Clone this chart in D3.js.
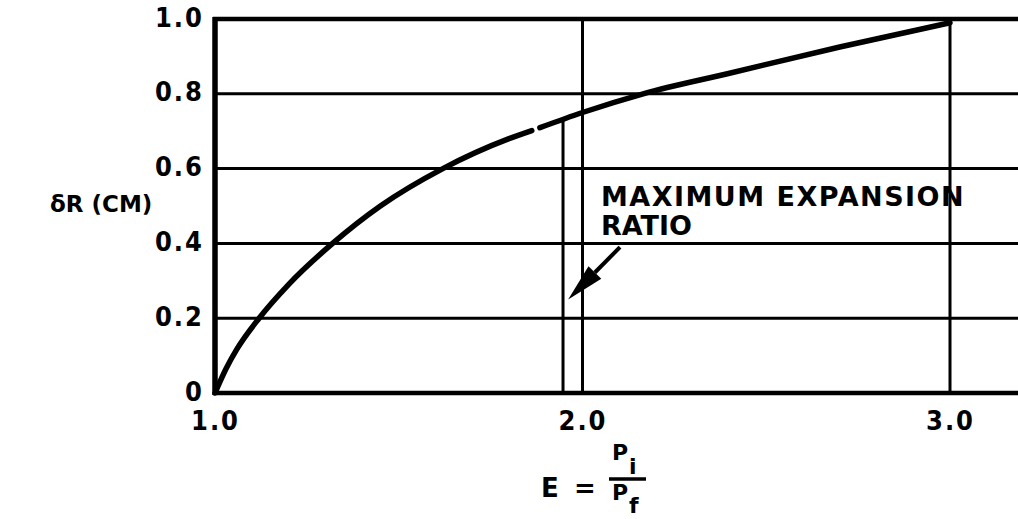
<!DOCTYPE html>
<html>
<head>
<meta charset="utf-8">
<script src="https://cdn.jsdelivr.net/npm/d3@7"></script>
<style>
  html, body { margin: 0; padding: 0; background: #fff; }
  svg { display: block; }
  .tick-label { font-family: "DejaVu Sans Condensed", "DejaVu Sans", sans-serif; font-stretch: condensed; font-weight: bold; fill: #000; }
  .note { font-family: "DejaVu Sans", sans-serif; font-weight: bold; fill: #000; }
</style>
</head>
<body>
<svg id="chart" width="1018" height="519"></svg>
<script>
// Expansion ratio E = Pi / Pf versus radial growth δR (cm)
const ratioE = [1.00, 1.03, 1.06, 1.12, 1.20, 1.32, 1.45, 1.62, 1.80, 2.00, 2.165, 2.40, 2.70, 3.00];
const deltaR = [0.00, 0.065, 0.118, 0.20, 0.29, 0.40, 0.50, 0.60, 0.68, 0.75, 0.80, 0.855, 0.925, 0.99];

// small break in the printed curve
const curveBreak = [1.862, 1.884];

const xTicks = [1.0, 2.0, 3.0];
const xTickLabels = ["1.0", "2.0", "3.0"];
const yTicks = [0, 0.2, 0.4, 0.6, 0.8, 1.0];
const yTickLabels = ["0", "0.2", "0.4", "0.6", "0.8", "1.0"];
const yGrid = [0.2, 0.4, 0.6, 0.8];
const xGrid = [2.0, 3.0];

const maxExpansionE = 1.947;
const yTitle = "δR (CM)";
const noteLines = ["MAXIMUM EXPANSION", "RATIO"];

const W = 1018, H = 519;
const margin = { left: 215, top: 19, bottom: 126 };
const svg = d3.select("#chart");

const x = d3.scaleLinear().domain([1, 1 + (W - margin.left) / 367.5]).range([margin.left, W]);
const y = d3.scaleLinear().domain([0, 1]).range([H - margin.bottom, margin.top]);

const pts = ratioE.map((e, i) => ({ e, r: deltaR[i] }));
const valueAt = e => {
  const i = d3.bisector(d => d.e).right(pts, e);
  const a = pts[Math.max(0, i - 1)], b = pts[Math.min(pts.length - 1, i)];
  if (a.e === b.e) return a.r;
  return a.r + (b.r - a.r) * (e - a.e) / (b.e - a.e);
};

// horizontal grid
svg.append("g").selectAll("line").data(yGrid).join("line")
  .attr("x1", x(1)).attr("x2", W)
  .attr("y1", d => y(d)).attr("y2", d => y(d))
  .attr("stroke", "#000").attr("stroke-width", 3);

// vertical grid
svg.append("g").selectAll("line").data(xGrid).join("line")
  .attr("x1", d => x(d)).attr("x2", d => x(d))
  .attr("y1", y(0)).attr("y2", y(1))
  .attr("stroke", "#000").attr("stroke-width", 3);

// frame: top, bottom and left edges
svg.append("line").attr("x1", x(1) - 2).attr("x2", W).attr("y1", y(1)).attr("y2", y(1))
  .attr("stroke", "#000").attr("stroke-width", 4.5);
svg.append("line").attr("x1", x(1) - 2).attr("x2", W).attr("y1", y(0)).attr("y2", y(0))
  .attr("stroke", "#000").attr("stroke-width", 4.5);
svg.append("line").attr("x1", x(1)).attr("x2", x(1)).attr("y1", y(1) - 2).attr("y2", y(0) + 2)
  .attr("stroke", "#000").attr("stroke-width", 5.5);

// maximum expansion ratio marker
svg.append("line")
  .attr("x1", x(maxExpansionE)).attr("x2", x(maxExpansionE))
  .attr("y1", y(0)).attr("y2", y(valueAt(maxExpansionE)))
  .attr("stroke", "#000").attr("stroke-width", 3);

// curve, drawn in two pieces around the break
const line = d3.line().x(d => x(d.e)).y(d => y(d.r)).curve(d3.curveMonotoneX);
const segA = pts.filter(d => d.e < curveBreak[0]).concat([{ e: curveBreak[0], r: valueAt(curveBreak[0]) }]);
const segB = [{ e: curveBreak[1], r: valueAt(curveBreak[1]) }].concat(pts.filter(d => d.e > curveBreak[1]));
svg.append("g").selectAll("path").data([segA, segB]).join("path")
  .attr("d", line).attr("fill", "none")
  .attr("stroke", "#000").attr("stroke-width", 5.5).attr("stroke-linecap", "round");

// axes (labels only)
const yAxis = d3.axisLeft(y).tickValues(yTicks).tickSize(0).tickPadding(10)
  .tickFormat((d, i) => yTickLabels[i]);
const gy = svg.append("g").attr("transform", `translate(${x(1) - 1},0)`).call(yAxis);
gy.select(".domain").remove();
gy.selectAll("text").attr("class", "tick-label").attr("font-size", 27)
  .attr("letter-spacing", 2).attr("dy", "0.26em");

const xAxis = d3.axisBottom(x).tickValues(xTicks).tickSize(0).tickPadding(18)
  .tickFormat((d, i) => xTickLabels[i]);
const gx = svg.append("g").attr("transform", `translate(0,${y(0)})`).call(xAxis);
gx.select(".domain").remove();
gx.selectAll("text").attr("class", "tick-label").attr("font-size", 27)
  .attr("letter-spacing", 2);

// y title
svg.append("text").attr("class", "note").attr("font-size", 23)
  .attr("x", 50).attr("y", y(0.5) + 6).text(yTitle);

// annotation
svg.append("text").attr("class", "note").attr("font-size", 27).attr("letter-spacing", 1.5)
  .attr("x", x(2.05)).attr("y", y(0.5)).text(noteLines[0]);
svg.append("text").attr("class", "note").attr("font-size", 27)
  .attr("x", x(2.05)).attr("y", y(0.4225)).text(noteLines[1]);

// arrow pointing at the marker
const tail = [x(2.102), y(0.39)], tip = [x(1.961), y(0.25)];
const ang = Math.atan2(tip[1] - tail[1], tip[0] - tail[0]);
const headLen = 38, headHalf = 9;
const base = [tip[0] - headLen * Math.cos(ang), tip[1] - headLen * Math.sin(ang)];
svg.append("line").attr("x1", tail[0]).attr("y1", tail[1]).attr("x2", base[0]).attr("y2", base[1])
  .attr("stroke", "#000").attr("stroke-width", 4);
svg.append("path")
  .attr("d", d3.line()([
    tip,
    [base[0] + headHalf * Math.sin(ang), base[1] - headHalf * Math.cos(ang)],
    [base[0] - headHalf * Math.sin(ang), base[1] + headHalf * Math.cos(ang)]
  ]) + "Z")
  .attr("fill", "#000");

// x title: E = Pi / Pf
const xt = svg.append("g").attr("class", "note");
xt.append("text").attr("font-size", 26).attr("x", 541).attr("y", 497).text("E");
xt.append("text").attr("font-size", 26).attr("x", 574).attr("y", 497).text("=");
xt.append("text").attr("font-size", 22).attr("x", 612).attr("y", 460).text("P");
xt.append("text").attr("font-size", 22).attr("x", 629).attr("y", 474).text("i");
xt.append("line").attr("x1", 609).attr("x2", 646).attr("y1", 479).attr("y2", 479)
  .attr("stroke", "#000").attr("stroke-width", 3.5);
xt.append("text").attr("font-size", 22).attr("x", 612).attr("y", 500).text("P");
xt.append("text").attr("font-size", 22).attr("x", 629).attr("y", 513).text("f");
</script>
</body>
</html>
